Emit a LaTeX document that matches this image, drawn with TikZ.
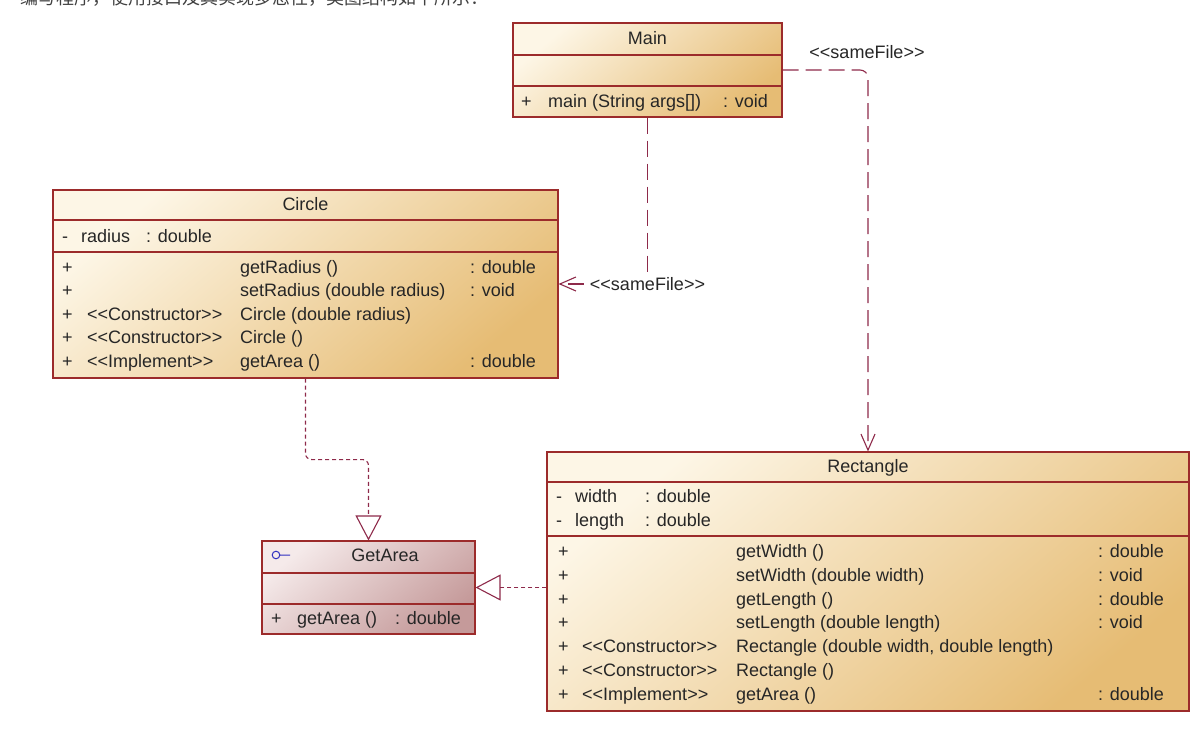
\documentclass[tikz,border=0pt]{standalone}
\usepackage{fontspec}
\setmainfont{Liberation Sans}
\newfontfamily\umlfont{Liberation Sans}
\newfontfamily\cjk{Noto Sans CJK SC}
\usetikzlibrary{arrows.meta}

\definecolor{umlred}{HTML}{9C2B2B}
\definecolor{umllight}{HTML}{FDF6E6}
\definecolor{umldark}{HTML}{E6BC74}
\definecolor{ifacelight}{HTML}{F5EAEA}
\definecolor{ifacedark}{HTML}{C59A9A}
\definecolor{linkred}{HTML}{8E2A4A}
\definecolor{iconblue}{HTML}{3030C0}

\begin{document}
\begin{tikzpicture}[x=1pt,y=-1pt,inner sep=0,
        font=\umlfont\fontsize{18}{21}\selectfont,text=black!85,
        classbox/.style={draw=umlred,line width=1.1pt,top color=umllight,bottom color=umldark,shading angle=40},
        ifacebox/.style={draw=umlred,line width=1.1pt,top color=ifacelight,bottom color=ifacedark,shading angle=40},
        sep/.style={draw=umlred,line width=1.1pt},
        row/.style={anchor=base west},
        head/.style={anchor=base},
        samefile/.style={draw=linkred,line width=1.1pt,dash pattern=on 16pt off 7pt,rounded corners=8pt,
            -{Straight Barb[length=16pt,width=14pt]}},
        realize/.style={draw=linkred,line width=1.1pt,dash pattern=on 4pt off 3pt,rounded corners=6pt,
            -{Triangle[open,length=25pt,width=26pt]}},
        ]
        \useasboundingbox (0,0) rectangle (1203,742);
        \clip (0,0) rectangle (1203,742);

        \node[anchor=base west,font=\cjk\fontsize{18}{20}\selectfont,text=black!75] (intro) at (20,4)
            {编写程序，使用接口及其实现多态性，类图结构如下所示：};

        % class boxes
        \node[classbox,minimum width=269pt,minimum height=94pt] (main) at (647.5,70) {};
        \node[classbox,minimum width=505pt,minimum height=188pt] (circle) at (305.5,284) {};
        \node[ifacebox,minimum width=213pt,minimum height=93pt] (getarea) at (368.5,587.5) {};
        \node[classbox,minimum width=642pt,minimum height=259pt] (rect) at (868,581.5) {};

        \foreach \b/\y in {main/55,main/86,circle/220,circle/252,getarea/573,getarea/604,rect/482,rect/536}{
            \draw[sep] (\b.west |- 0,\y) -- (\b.east |- 0,\y);
        }

        \node[head] (mainT) at (647.5,44) {Main};
        \node[head] (circleT) at (305.5,210) {Circle};
        \node[head] (getareaT) at (385,561) {GetArea};
        \node[head] (rectT) at (868,472) {Rectangle};
        \draw[iconblue,line width=1pt] (276,555) circle (3.8pt) (279.8,555) -- (290,555);

        \node[row] (mainP) at (521,107) {+};
        \node[row] (mainN) at (548,107) {main (String args[])};
        \node[row] (mainR) at (723,107) {: void};

        \node[row] (circleA) at (62,242) {-};
        \node[row] (circleAN) at (81,242) {radius};
        \node[row] (circleAT) at (146,242) {: double};
        \foreach \y/\st/\nm/\ty [count=\i] in {273/{}/{getRadius ()}/{: double},
                296/{}/{setRadius (double radius)}/{: void},
                320/{<<Constructor>>}/{Circle (double radius)}/{},
                343/{<<Constructor>>}/{Circle ()}/{},
                367/{<<Implement>>}/{getArea ()}/{: double}}{
            \node[row] (cp\i) at (62,\y) {+};
            \node[row] (cs\i) at (87,\y) {\st};
            \node[row] (cn\i) at (240,\y) {\nm};
            \node[row] (ct\i) at (470,\y) {\ty};
        }

        \node[row] (getareaP) at (271,624) {+};
        \node[row] (getareaN) at (297,624) {getArea ()};
        \node[row] (getareaR) at (395,624) {: double};

        \foreach \y/\nm [count=\i] in {502/width,526/length}{
            \node[row] (ra\i) at (556,\y) {-};
            \node[row] (ran\i) at (575,\y) {\nm};
            \node[row] (rat\i) at (645,\y) {: double};
        }
        \foreach \y/\st/\nm/\ty [count=\i] in {557/{}/{getWidth ()}/{: double},
                581/{}/{setWidth (double width)}/{: void},
                605/{}/{getLength ()}/{: double},
                628/{}/{setLength (double length)}/{: void},
                652/{<<Constructor>>}/{Rectangle (double width, double length)}/{},
                676/{<<Constructor>>}/{Rectangle ()}/{},
                700/{<<Implement>>}/{getArea ()}/{: double}}{
            \node[row] (rp\i) at (558,\y) {+};
            \node[row] (rs\i) at (582,\y) {\st};
            \node[row] (rn\i) at (736,\y) {\nm};
            \node[row] (rt\i) at (1098,\y) {\ty};
        }

        % connectors
        \draw[samefile] (main.east) -| (rect.north);
        \node (sfR) at (867,52) {<<sameFile>>};
        \draw[samefile,rounded corners=0pt] (main.south) |- node[fill=white] (sfC) {<<sameFile>>} (circle.east);
        \draw[realize] (circle.south) -- ++(0,81) -| (getarea.north);
        \draw[realize] (rect.west |- getarea.east) -- (getarea.east);
\end{tikzpicture}
\end{document}
